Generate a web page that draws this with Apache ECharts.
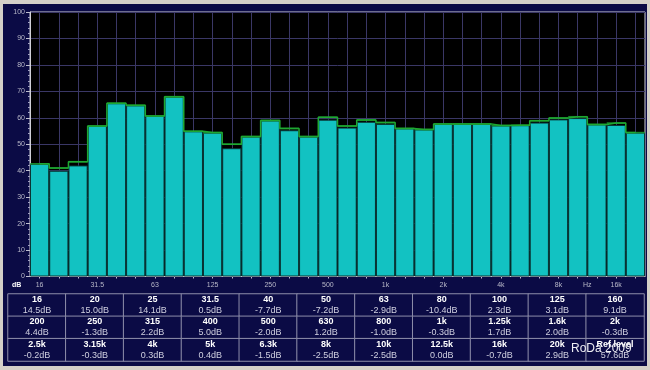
<!DOCTYPE html>
<html><head><meta charset="utf-8">
<script src="https://cdn.jsdelivr.net/npm/echarts@6/dist/echarts.min.js"></script>
<style>
html,body{margin:0;padding:0;background:#d4d0c8;}
#c{width:650px;height:370px;background:#0b0b45;box-shadow:inset 3px 4px 0 0 #d4d0c8, inset -3px -4px 0 0 #d4d0c8;}
</style>
</head><body><div id="c"></div>
<script>
// ---- data ----
const bands = ['16','20','25','31.5','40','50','63','80','100','125','160','200','250','315','400','500','630','800','1k','1.25k','1.6k','2k','2.5k','3.15k','4k','5k','6.3k','8k','10k','12.5k','16k','20k'];
const levels = [42.6,40.0,42.0,56.9,65.5,64.7,60.7,68.0,54.9,54.4,48.5,52.9,59.0,55.3,52.9,59.3,56.3,58.5,57.7,56.0,55.6,57.7,57.7,57.7,57.1,57.2,58.2,59.4,59.9,57.5,57.3,54.4];
const peaks  = [42.6,41.0,43.4,56.9,65.5,64.7,60.7,68.0,54.9,54.4,50.0,52.9,59.0,56.0,52.9,60.2,56.9,59.2,58.2,56.0,55.6,57.7,57.7,57.7,57.1,57.2,58.9,59.9,60.4,57.5,58.0,54.4];
const yTicks = {min: 0, max: 100, step: 10};
const tableBands = ['16','20','25','31.5','40','50','63','80','100','125','160','200','250','315','400','500','630','800','1k','1.25k','1.6k','2k','2.5k','3.15k','4k','5k','6.3k','8k','10k','12.5k','16k','20k','Ref.level'];
const tableDb = [14.5,15.0,14.1,0.5,-7.7,-7.2,-2.9,-10.4,2.3,3.1,9.1,4.4,-1.3,2.2,5.0,-2.0,1.2,-1.0,-0.3,1.7,2.0,-0.3,-0.2,-0.3,0.3,0.4,-1.5,-2.5,-2.5,0.0,-0.7,2.9,57.6];
const tableCols = 11, tableRows = 3;

// ---- build ----
const colNames = Array.from({length: tableCols}, (_, i) => 'c' + i);
const rowNames = Array.from({length: tableRows}, (_, i) => 'r' + i);
const cells = tableBands.map((b, i) => [i % tableCols, Math.floor(i / tableCols), 0]);

const gridColor = '#3a3766';
const labelColor = '#b8b8c8';
const green = '#1ea832';
const FONT = 'Liberation Sans';

const chart = echarts.init(document.getElementById('c'), null, {renderer: 'canvas'});
chart.setOption({
  backgroundColor: 'transparent',
  animation: false,
  textStyle: {fontFamily: FONT},
  grid: [
    {left: 30, right: 5, top: 12, height: 264.5, show: true, backgroundColor: '#000000', borderColor: '#d0d0d8', borderWidth: 1, containLabel: false},
    {left: 8, right: 6, top: 294, height: 67, containLabel: false}
  ],
  xAxis: [
    {type: 'category', gridIndex: 0, data: bands, boundaryGap: true,
     axisLine: {show: true, lineStyle: {color: '#d0d0d8', width: 1}},
     axisTick: {show: true, alignWithLabel: true, interval: 0, inside: true, length: 264, lineStyle: {color: gridColor, width: 1}},
     axisLabel: {interval: 2, color: labelColor, fontSize: 7, margin: 5, fontFamily: FONT, hideOverlap: false},
     splitLine: {show: false}},
    {type: 'category', gridIndex: 0, data: bands, boundaryGap: true, position: 'bottom',
     axisLine: {show: false},
     axisTick: {show: true, alignWithLabel: true, interval: 0, length: 2, lineStyle: {color: '#c0c0d0'}},
     axisLabel: {show: false}, splitLine: {show: false}},
    {type: 'category', gridIndex: 1, data: colNames, show: false}
  ],
  yAxis: [
    {type: 'value', gridIndex: 0, min: yTicks.min, max: yTicks.max, interval: yTicks.step,
     axisLine: {show: true, lineStyle: {color: '#d0d0d8'}},
     axisTick: {show: true, length: 4, lineStyle: {color: '#c0c0d0'}},
     minorTick: {show: true, splitNumber: 5, length: 2, lineStyle: {color: '#a0a0c0'}},
     axisLabel: {color: labelColor, fontSize: 7, margin: 5, fontFamily: FONT},
     splitLine: {show: true, lineStyle: {color: gridColor, width: 1}}},
    {type: 'category', gridIndex: 1, data: rowNames, inverse: true, show: false}
  ],
  visualMap: {show: false, type: 'continuous', min: 0, max: 1, dimension: 2, seriesIndex: 3, inRange: {color: ['#0b0b45', '#0b0b45']}},
  series: [
    {type: 'bar', xAxisIndex: 0, yAxisIndex: 0, data: levels, barCategoryGap: 0, barGap: '-100%',
     itemStyle: {color: '#12c2c2', borderColor: '#0a3434', borderWidth: 1}, silent: true},
    {type: 'line', xAxisIndex: 0, yAxisIndex: 0, data: peaks, step: 'middle', symbol: 'none', z: 3,
     lineStyle: {color: green, width: 1.5}, silent: true},
    {type: 'scatter', xAxisIndex: 0, yAxisIndex: 0, data: peaks, symbol: 'rect', symbolSize: [19, 1.6], z: 4,
     itemStyle: {color: green}, silent: true},
    {type: 'heatmap', xAxisIndex: 2, yAxisIndex: 1, data: cells, silent: true,
     itemStyle: {borderColor: '#8e8eaa', borderWidth: 1},
     emphasis: {disabled: true},
     label: {show: true, fontFamily: FONT,
       formatter: p => '{a|' + tableBands[p.dataIndex] + '}\n{b|' + tableDb[p.dataIndex].toFixed(1) + 'dB}',
       rich: {
         a: {fontWeight: 'bold', color: '#ffffff', fontSize: 9, lineHeight: 11, fontFamily: FONT},
         b: {color: '#d0d0e0', fontSize: 9, lineHeight: 11, fontFamily: FONT}
       }}}
  ],
  graphic: [
    {type: 'text', left: 12, top: 282, z: 10, style: {text: 'dB', fill: '#ffffff', font: 'bold 7px "Liberation Sans"'}},
    {type: 'text', left: 583, top: 282, z: 10, style: {text: 'Hz', fill: labelColor, font: '7px "Liberation Sans"'}},
    {type: 'text', left: 571, top: 343, z: 10, style: {text: 'RoDa 2009', fill: '#eeeef4', font: '12px "Liberation Sans"'}}
  ]
});
</script>
</body></html>
